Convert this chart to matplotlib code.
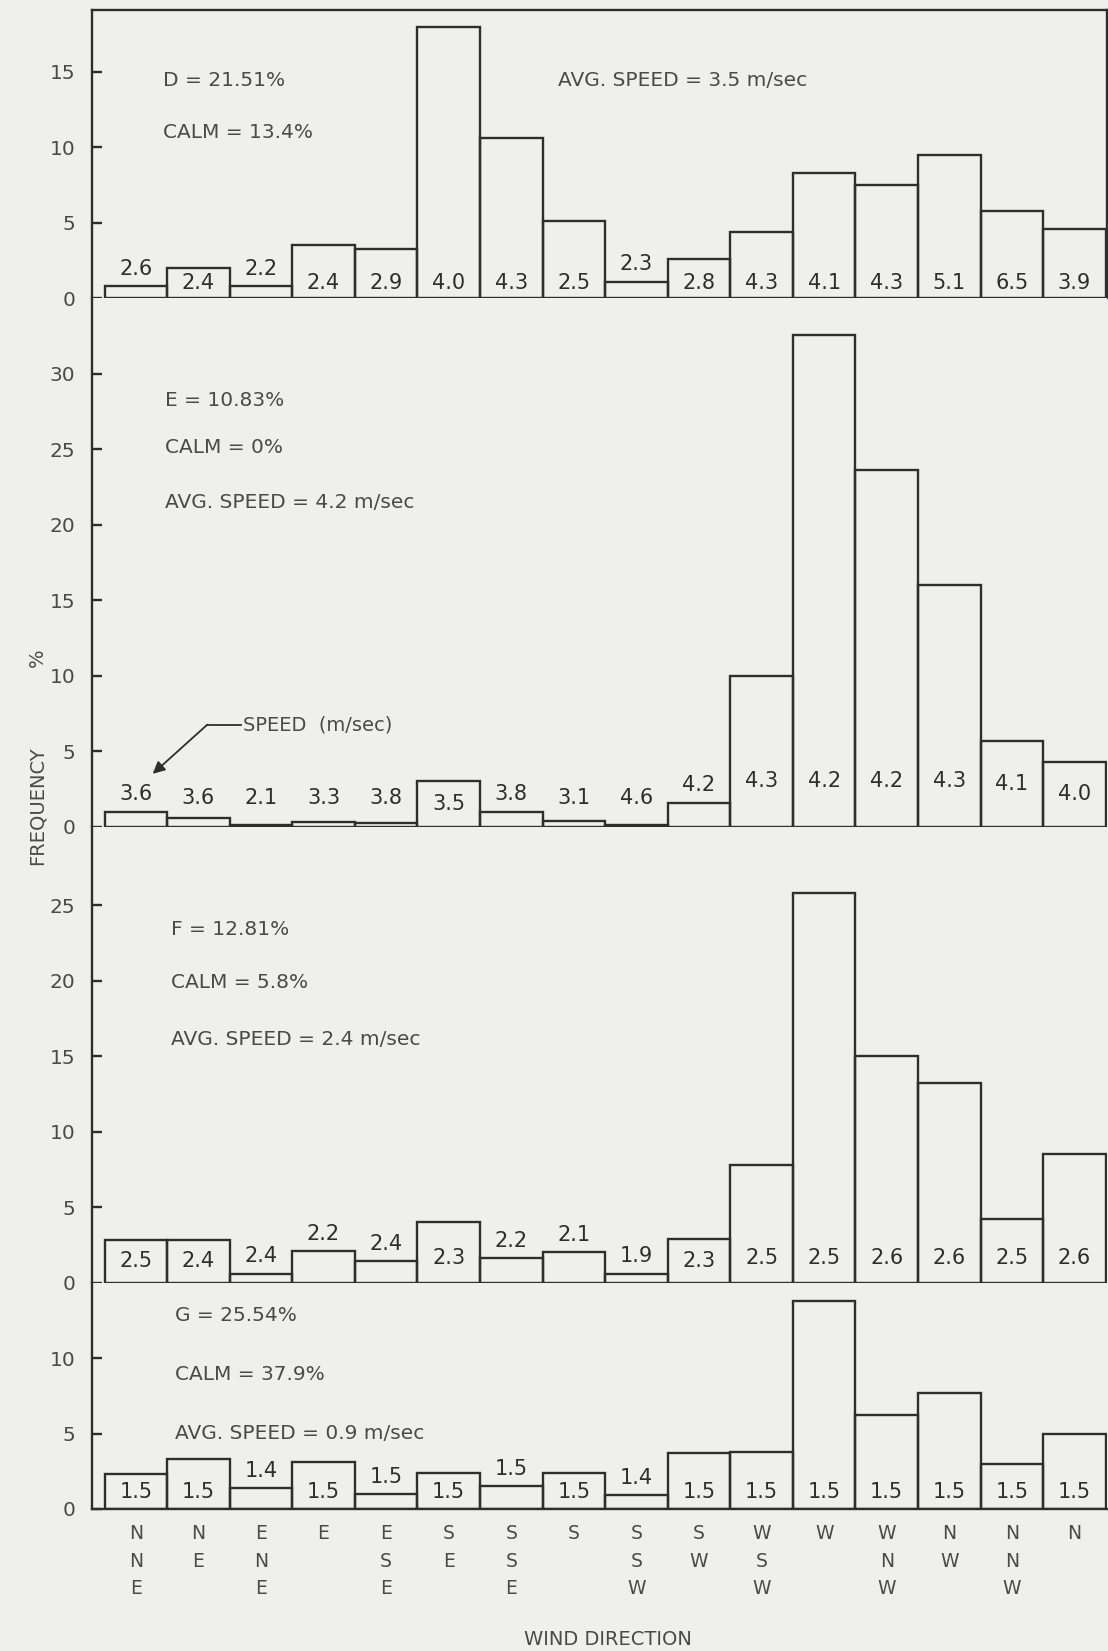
import matplotlib
matplotlib.use('Agg')
import matplotlib.pyplot as plt

# ---------------- data ----------------
directions = ['NNE', 'NE', 'ENE', 'E', 'ESE', 'SE', 'SSE', 'S',
              'SSW', 'SW', 'WSW', 'W', 'WNW', 'NW', 'NNW', 'N']

freq_D = [0.8, 2.0, 0.8, 3.5, 3.3, 18.0, 10.6, 5.1, 1.1, 2.6, 4.4, 8.3, 7.5, 9.5, 5.8, 4.6]
speed_D = [2.6, 2.4, 2.2, 2.4, 2.9, 4.0, 4.3, 2.5, 2.3, 2.8, 4.3, 4.1, 4.3, 5.1, 6.5, 3.9]

freq_E = [1.0, 0.6, 0.1, 0.3, 0.25, 3.0, 1.0, 0.4, 0.1, 1.6, 10.0, 32.6, 23.6, 16.0, 5.7, 4.3]
speed_E = [3.6, 3.6, 2.1, 3.3, 3.8, 3.5, 3.8, 3.1, 4.6, 4.2, 4.3, 4.2, 4.2, 4.3, 4.1, 4.0]

freq_F = [2.8, 2.8, 0.6, 2.1, 1.4, 4.0, 1.6, 2.0, 0.6, 2.9, 7.8, 25.8, 15.0, 13.2, 4.2, 8.5]
speed_F = [2.5, 2.4, 2.4, 2.2, 2.4, 2.3, 2.2, 2.1, 1.9, 2.3, 2.5, 2.5, 2.6, 2.6, 2.5, 2.6]

freq_G = [2.3, 3.3, 1.4, 3.1, 1.0, 2.4, 1.5, 2.4, 0.9, 3.7, 3.8, 13.8, 6.2, 7.7, 3.0, 5.0]
speed_G = [1.5, 1.5, 1.4, 1.5, 1.5, 1.5, 1.5, 1.5, 1.4, 1.5, 1.5, 1.5, 1.5, 1.5, 1.5, 1.5]

stability = ['D', 'E', 'F', 'G']
stab_pct = ['21.51', '10.83', '12.81', '25.54']
calm_pct = ['13.4', '0', '5.8', '37.9']
avg_speed = ['3.5', '4.2', '2.4', '0.9']
yticks_D = [0, 5, 10, 15]
yticks_E = [0, 5, 10, 15, 20, 25, 30]
yticks_F = [0, 5, 10, 15, 20, 25]
yticks_G = [0, 5, 10]

freqs = [freq_D, freq_E, freq_F, freq_G]
speeds = [speed_D, speed_E, speed_F, speed_G]
yticks = [yticks_D, yticks_E, yticks_F, yticks_G]

# ---------------- layout / style ----------------
W, H = 1108, 1651
BG = '#efefed'
INK = '#2e2e2e'
TXT = '#4a4a4a'
FONT = 'DejaVu Sans'
plt.rcParams['font.family'] = [FONT]

ylims = [19.1, 35.0, 30.2, 15.0]
inside_off = [1.0, 3.0, 1.6, 1.1]      # label centre height for labels inside bars
inside_thr = [1.8, 2.5, 2.5, 2.0]      # bar height needed to hold a label
above_base = [1.9, 1.9, 1.7, 1.7]      # minimum centre height for labels above bars
text_rows = [[14.4, 11.0], [28.2, 25.1, 21.5], [23.4, 19.9, 16.1], [12.8, 8.9, 5.0]]
text_x = [0.43, 0.47, 0.56, 0.63]

fig = plt.figure(figsize=(W / 100, H / 100), dpi=100, facecolor=BG)
left_px, right_px, top_px, bot_px = 92, 1107, 10, 1509
gs = fig.add_gridspec(4, 1, height_ratios=ylims, hspace=0,
                      left=left_px / W, right=right_px / W,
                      top=1 - top_px / H, bottom=1 - bot_px / H)

xmin, xmax = -0.7, 15.52
lw = 1.7
x = list(range(len(directions)))

axes = []
for k in range(4):
    ax = fig.add_subplot(gs[k])
    axes.append(ax)
    ax.set_facecolor(BG)
    ax.bar(x, freqs[k], width=1.0, facecolor='none', edgecolor=INK,
           linewidth=lw, clip_on=True)
    ax.set_xlim(xmin, xmax)
    ax.set_ylim(0, ylims[k])
    ax.set_yticks(yticks[k])
    ax.tick_params(axis='y', direction='in', length=7, width=lw, color=INK,
                   labelsize=14.5, labelcolor=TXT, pad=12)
    for s in ['top', 'right', 'bottom']:
        ax.spines[s].set_visible(False)
    ax.spines['left'].set_linewidth(lw)
    ax.spines['left'].set_color(INK)
    if k == 0:
        ax.spines['top'].set_visible(True)
        ax.spines['right'].set_visible(True)
        for s in ['top', 'right']:
            ax.spines[s].set_linewidth(lw)
            ax.spines[s].set_color(INK)
    if k == 3:
        ax.spines['bottom'].set_visible(True)
        ax.spines['bottom'].set_linewidth(lw)
        ax.spines['bottom'].set_color(INK)
        ax.set_xticks(x)
        ax.set_xticklabels(['\n'.join(d) for d in directions], fontsize=13.5,
                           color=TXT, linespacing=1.55, va='top')
        ax.tick_params(axis='x', length=0, pad=11)
    else:
        ax.set_xticks([])

    # speed labels
    for i, (f, sp) in enumerate(zip(freqs[k], speeds[k])):
        if f >= inside_thr[k]:
            yc = min(inside_off[k], f * 0.5)
        else:
            yc = max(above_base[k], f + 1.15)
        ax.text(i, yc, f'{sp:.1f}', ha='center', va='center',
                fontsize=15, color=INK)

    # panel annotations
    rows = text_rows[k]
    ax.text(text_x[k], rows[0], f'{stability[k]} = {stab_pct[k]}%',
            ha='left', va='center', fontsize=14.5, color=TXT)
    ax.text(text_x[k], rows[1], f'CALM = {calm_pct[k]}%',
            ha='left', va='center', fontsize=14.5, color=TXT)
    if k == 0:
        ax.text(6.74, rows[0], f'AVG. SPEED = {avg_speed[k]} m/sec',
                ha='left', va='center', fontsize=14.5, color=TXT)
    else:
        ax.text(text_x[k], rows[2], f'AVG. SPEED = {avg_speed[k]} m/sec',
                ha='left', va='center', fontsize=14.5, color=TXT)

# SPEED pointer in panel E
axE = axes[1]
axE.text(1.72, 6.75, 'SPEED  (m/sec)', ha='left', va='center',
         fontsize=14, color=TXT)
axE.plot([1.14, 1.68], [6.75, 6.75], color=INK, lw=1.3)
axE.annotate('', xy=(0.27, 3.5), xytext=(1.14, 6.75),
             arrowprops=dict(arrowstyle='-|>', color=INK, lw=1.3,
                             mutation_scale=18, shrinkA=0, shrinkB=0))

# axis titles
fig.text(37 / W, 1 - 806 / H, 'FREQUENCY', rotation=90, ha='center',
         va='center', fontsize=14, color=TXT)
fig.text(37 / W, 1 - 658 / H, '%', rotation=90, ha='center',
         va='center', fontsize=14, color=TXT)
fig.text(608 / W, 1 - 1639 / H, 'WIND DIRECTION', ha='center', va='center',
         fontsize=14, color=TXT)

fig.savefig('out.png', dpi=100, facecolor=BG)
